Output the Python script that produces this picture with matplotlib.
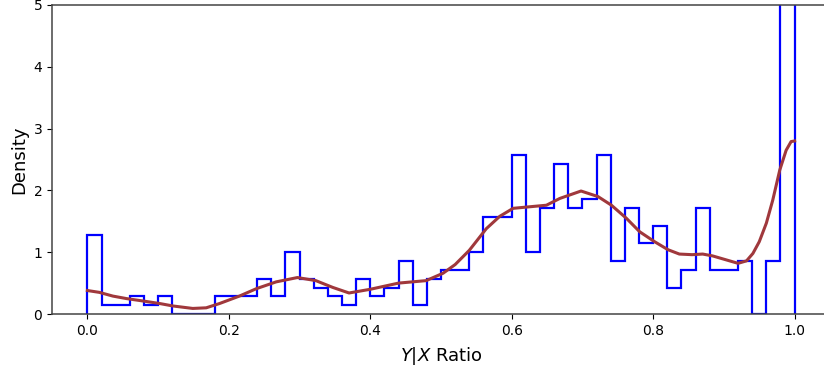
import matplotlib
matplotlib.use('Agg')
from matplotlib import pyplot as plt
import numpy as np

# histogram: 50 bins of width 0.02 on [0, 1], counts
bin_edges = np.linspace(0, 1, 51)
bin_counts = [
    9, 1, 1, 2, 1, 2, 0, 0, 0, 2,
    2, 2, 4, 2, 7, 4, 3, 2, 1, 4,
    2, 3, 6, 1, 4, 5, 5, 7, 11, 11,
    18, 7, 12, 17, 12, 13, 18, 6, 12, 8,
    10, 3, 5, 12, 5, 5, 6, 0, 6, 71,
]

# kde curve
kde_x = [0.0, 0.017, 0.036, 0.055, 0.079, 0.102, 0.121, 0.149, 0.168, 0.187,
         0.215, 0.239, 0.267, 0.297, 0.323, 0.347, 0.37, 0.40, 0.44, 0.479,
         0.503, 0.52, 0.54, 0.564, 0.583, 0.602, 0.63, 0.649, 0.668, 0.698,
         0.722, 0.741, 0.762, 0.781, 0.802, 0.821, 0.837, 0.855, 0.870, 0.884,
         0.908, 0.920, 0.932, 0.941, 0.950, 0.960, 0.969, 0.979, 0.988, 0.995,
         1.0]
kde_y = [0.38, 0.35, 0.29, 0.25, 0.21, 0.17, 0.13, 0.09, 0.10, 0.17,
         0.29, 0.41, 0.52, 0.59, 0.54, 0.43, 0.34, 0.40, 0.50, 0.54,
         0.66, 0.80, 1.03, 1.38, 1.58, 1.71, 1.74, 1.76, 1.87, 1.99,
         1.90, 1.76, 1.55, 1.33, 1.17, 1.04, 0.97, 0.96, 0.97, 0.94,
         0.86, 0.82, 0.86, 0.98, 1.17, 1.47, 1.84, 2.33, 2.65, 2.79,
         2.80]

counts = np.array(bin_counts, dtype=float)
density = counts / (counts.sum() * np.diff(bin_edges))

fig = plt.figure(figsize=(8.24, 3.68), dpi=100)
ax = fig.add_axes([52 / 824, 54 / 368, 778 / 824, 309 / 368])

ax.stairs(density, bin_edges, color='blue', linewidth=1.6, baseline=0)
ax.plot(kde_x, kde_y, color='#a0383c', linewidth=2.2)

ax.set_xlim(-0.05, 1.05)
ax.set_ylim(0, 5)
ax.set_xticks([0.0, 0.2, 0.4, 0.6, 0.8, 1.0])
ax.set_yticks([0, 1, 2, 3, 4, 5])
ax.tick_params(labelsize=10)
for s in ax.spines.values():
    s.set_color('#444444')
    s.set_linewidth(1.1)

ax.set_xlabel('$Y|X$ Ratio', fontsize=13, labelpad=5.5)
ax.set_ylabel('Density', fontsize=13, labelpad=4)

plt.savefig('out.png', dpi=100)
